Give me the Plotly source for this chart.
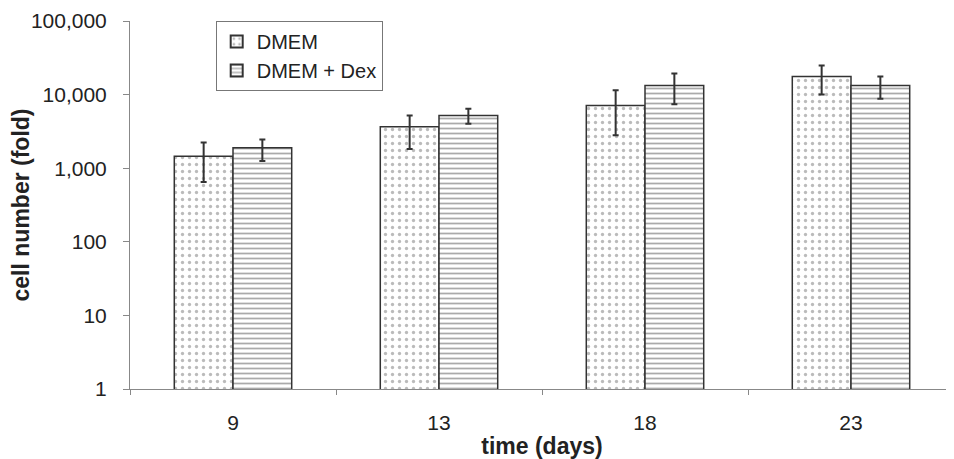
import plotly.graph_objects as go

days = ["9", "13", "18", "23"]
dmem = [1450, 3650, 7100, 17600]
dmem_err_plus = [790, 1560, 4400, 7300]
dmem_err_minus = [800, 1820, 4300, 7600]
dex = [1900, 5200, 13300, 13300]
dex_err_plus = [560, 1200, 6000, 4300]
dex_err_minus = [650, 1170, 5900, 4550]
ytick_vals = [1, 10, 100, 1000, 10000, 100000]
ytick_text = ["1", "10", "100", "1,000", "10,000", "100,000"]

font = "Liberation Sans, Arial, sans-serif"

fig = go.Figure()
fig.add_trace(go.Bar(
    name="DMEM", x=days, y=dmem,
    marker=dict(color="white", line=dict(color="#333333", width=1.5),
                pattern=dict(shape=".", fgcolor="#777777", bgcolor="white", size=7, solidity=0.18)),
    error_y=dict(type="data", array=dmem_err_plus, arrayminus=dmem_err_minus,
                 color="#333333", thickness=2, width=3),
))
fig.add_trace(go.Bar(
    name="DMEM + Dex", x=days, y=dex,
    marker=dict(color="white", line=dict(color="#333333", width=1.5),
                pattern=dict(shape="-", fgcolor="#555555", bgcolor="white", size=5, solidity=0.35)),
    error_y=dict(type="data", array=dex_err_plus, arrayminus=dex_err_minus,
                 color="#333333", thickness=2, width=3),
))

fig.update_layout(
    width=946, height=451,
    margin=dict(l=122, r=0, t=13, b=70),
    paper_bgcolor="white", plot_bgcolor="white",
    barmode="group", bargap=0.43, bargroupgap=0,
    font=dict(family=font, color="#222222", size=21),
    legend=dict(x=0.104, y=1.0, xanchor="left", yanchor="top",
                bordercolor="#777777", borderwidth=1, bgcolor="white",
                font=dict(size=20), tracegroupgap=0, itemwidth=30,
                itemsizing="constant"),
    showlegend=True,
)
fig.update_xaxes(
    automargin=False,
    showline=True, linecolor="#888888", linewidth=1,
    ticks="outside", tickson="boundaries", ticklen=5, tickcolor="#888888",
    ticklabelstandoff=15, tickfont=dict(size=21),
    title=dict(text="<b>time (days)</b>", font=dict(size=23), standoff=4),
    showgrid=False,
)
fig.update_yaxes(
    automargin=False,
    type="log", range=[0, 5],
    tickvals=ytick_vals, ticktext=ytick_text,
    ticklabeloverflow="allow",
    showline=True, linecolor="#888888", linewidth=1,
    ticks="outside", ticklen=6, tickcolor="#888888",
    ticklabelstandoff=12, tickfont=dict(size=21),
    title=dict(text="<b>cell number (fold)</b>", font=dict(size=23), standoff=12),
    showgrid=False, zeroline=False,
)

fig.write_html("out.html")
